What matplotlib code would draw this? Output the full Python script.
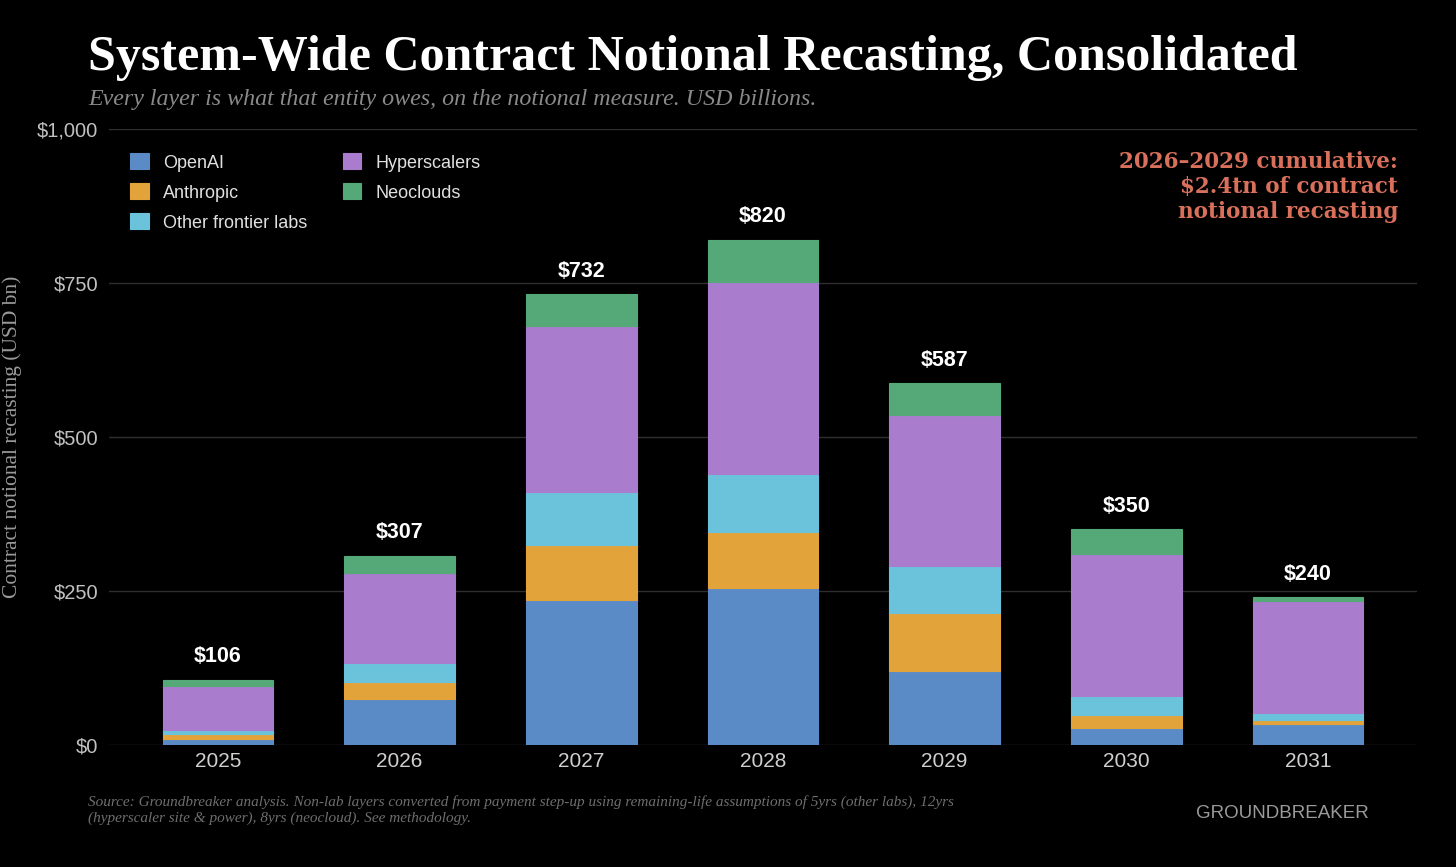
import matplotlib.pyplot as plt
import numpy as np

# Data (USD bn)
years = ["2025", "2026", "2027", "2028", "2029", "2030", "2031"]
openai = [10, 75, 235, 255, 120, 28, 34]
anthropic = [8, 28, 90, 90, 95, 20, 7]
other_labs = [7, 30, 85, 95, 75, 32, 11]
hyperscalers = [71, 146, 271, 311, 245, 230, 182]
neoclouds = [10, 28, 51, 69, 52, 40, 6]
totals = [106, 307, 732, 820, 587, 350, 240]

layers = [
    ("OpenAI", openai, "#5b8bc6"),
    ("Anthropic", anthropic, "#e3a33b"),
    ("Other frontier labs", other_labs, "#6ac3db"),
    ("Hyperscalers", hyperscalers, "#aa7cce"),
    ("Neoclouds", neoclouds, "#55a878"),
]

bg = "#000000"
fig = plt.figure(figsize=(14.56, 8.67), dpi=100, facecolor=bg)
ax = fig.add_axes([109 / 1456, 1 - 745 / 867, (1417 - 109) / 1456, (745 - 129) / 867])
ax.set_facecolor(bg)

x = np.arange(len(years))
bottom = np.zeros(len(years))
handles = []
for name, vals, col in layers:
    b = ax.bar(x, vals, width=0.61, bottom=bottom, color=col, edgecolor=col,
               linewidth=0.8, label=name, zorder=3)
    handles.append(b)
    bottom += np.array(vals)

for xi, t in zip(x, totals):
    ax.annotate(f"${t}", (xi, t), xytext=(0, 9), textcoords="offset points",
                ha="center", va="bottom", color="white", fontsize=15.5,
                fontweight="bold", family="Liberation Sans")

ax.set_xlim(-0.6, 6.6)
ax.set_ylim(0, 1000)
ax.set_yticks([0, 250, 500, 750, 1000])
ax.set_yticklabels(["$0", "$250", "$500", "$750", "$1,000"])
ax.set_xticks(x)
ax.set_xticklabels(years)
ax.tick_params(axis="y", length=0, colors="#c0c0c0", labelsize=14.5, pad=8)
ax.tick_params(axis="x", length=0, colors="#cfcfcf", labelsize=15, pad=5)
for lab in ax.get_xticklabels() + ax.get_yticklabels():
    lab.set_family("Liberation Sans")
ax.grid(axis="y", color="#2e2e2e", linewidth=1, zorder=0)
for s in ax.spines.values():
    s.set_visible(False)

fig.text(12 / 1456, 1 - 437 / 867, "Contract notional recasting (USD bn)", rotation=90,
         ha="center", va="center", family="Liberation Serif", color="#9a9a9a", fontsize=15.5)

# Legend: two columns, column-major order
leg = ax.legend(handles=handles, ncol=2, loc="upper left", bbox_to_anchor=(0.004, 0.987),
                frameon=False, prop={"family": "Liberation Sans", "size": 13},
                handlelength=1.0, handleheight=1.0, handletextpad=0.8,
                columnspacing=2.0, labelspacing=0.65, borderaxespad=0.5)
for t in leg.get_texts():
    t.set_color("#e0e0e0")

ax.text(0.9855, 0.964, "2026\u20132029 cumulative:\n$2.4tn of contract\nnotional recasting",
        transform=ax.transAxes, ha="right", va="top", color="#d8705c",
        fontsize=15.5, fontweight="bold", family="DejaVu Serif", linespacing=1.18)

fig.text(88 / 1456, 1 - 58 / 867, "System-Wide Contract Notional Recasting, Consolidated",
         ha="left", va="center", color="white", fontsize=36, fontweight="bold",
         family="Liberation Serif")
fig.text(88 / 1456, 1 - 99 / 867, "Every layer is what that entity owes, on the notional measure. USD billions.",
         ha="left", va="center", color="#8a8a8a", fontsize=17.3, style="italic",
         family="Liberation Serif")

fig.text(88 / 1456, 1 - 810 / 867,
         "Source: Groundbreaker analysis. Non-lab layers converted from payment step-up using remaining-life assumptions of 5yrs (other labs), 12yrs\n"
         "(hyperscaler site & power), 8yrs (neocloud). See methodology.",
         ha="left", va="center", color="#6e6e6e", fontsize=11, style="italic",
         family="Liberation Serif", linespacing=1.3)
fig.text(1369 / 1456, 1 - 813 / 867, "GROUNDBREAKER", ha="right", va="center",
         color="#9a9a9a", fontsize=13.5, family="Liberation Sans")

fig.savefig("out.png", dpi=100, facecolor=bg)
